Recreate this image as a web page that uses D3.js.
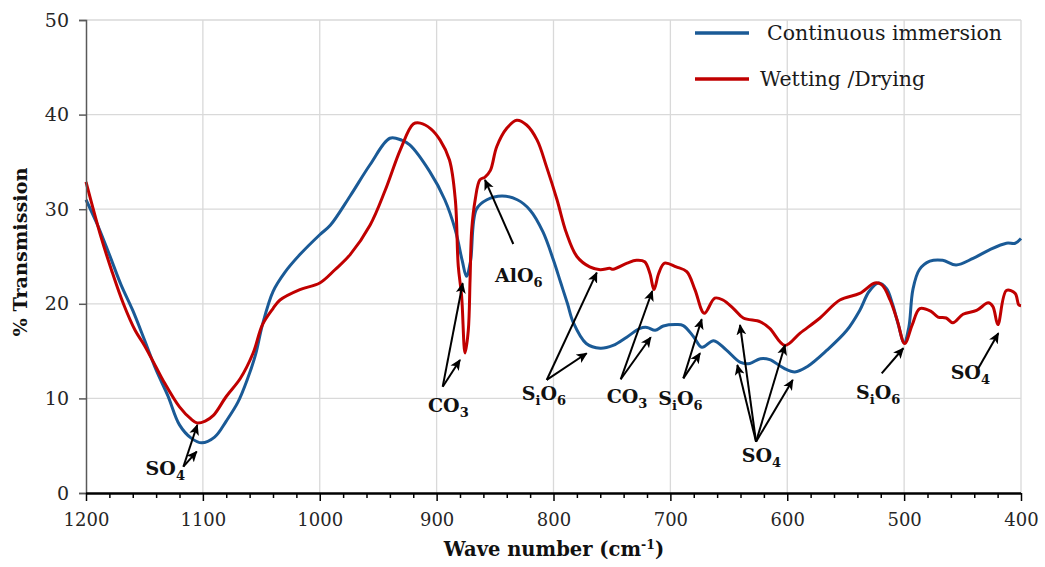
<!DOCTYPE html>
<html><head><meta charset="utf-8">
<script src="https://cdn.jsdelivr.net/npm/d3@7"></script>
<style>
html,body{margin:0;padding:0;background:#fff;}
svg{display:block;}
</style></head>
<body>
<svg id="chart" width="1045" height="567"></svg>
<script>
// ---- data ----
const seriesNames = ["Continuous immersion", "Wetting /Drying"];
const xTickValues = [1200, 1100, 1000, 900, 800, 700, 600, 500, 400];
const yTickValues = [0, 10, 20, 30, 40, 50];

const blueWave = [1200,1190,1180,1170,1160,1150,1140,1130,1120,1110,1101,1090,1080,1070,1062,1055,1049,1040,1030,1017,1000,991,974,957,940,930,923,906,893,884,878,874.5,871,866,857,844,831,820,809,800,794,788,783,772,760,749,737,726,720,713,706,695,689,680,673,663,652,640,632,623,615,603,593.5,583,566,549,538,530,522,515,510,505,500,496,492.5,487,478,467,455.5,441,427,412.5,405,400];
const blueT = [31.0,28.3,25.2,22.0,19.3,16.2,13.0,10.3,7.2,5.8,5.3,5.9,7.6,9.6,12.0,14.6,17.8,21.3,23.3,25.2,27.3,28.3,31.4,34.7,37.5,37.3,36.8,34.0,31.0,27.8,24.5,22.9,24.5,30.0,31.0,31.4,31.0,29.9,27.6,24.6,22.3,20.0,18.0,15.8,15.3,15.6,16.5,17.4,17.5,17.2,17.65,17.8,17.7,16.5,15.4,16.1,15.1,13.8,13.7,14.2,14.1,13.2,12.8,13.35,15.1,17.2,19.3,21.3,22.2,21.6,20.0,17.8,15.9,17.5,21.5,23.6,24.5,24.6,24.1,24.8,25.7,26.4,26.4,26.9];

const redWave = [1200,1187,1178,1168,1158,1150,1140,1134,1120,1110,1105,1098,1091,1080,1068,1057,1049,1040,1034,1017,1000,987,974,957,944,931,920,914,905,897,889,884,881.5,878.6,875.7,872.9,871.4,870,867,863,858.6,854,848.6,840,831.5,823,814,806,797,789,780,769,760,752,749,737,729,722,717.5,714,710,705,695,686,679,671,662,655,646,637.6,623,615,602,589,572,555,538,525,519,512,506,499.5,493,486.6,477,471,464,458.3,449.6,438,428,424,419.8,412.5,405,402,400];
const redT = [32.9,27.0,23.5,20.0,17.2,15.6,13.3,11.9,9.1,7.8,7.4,7.6,8.2,10.2,12.1,14.8,17.8,19.5,20.4,21.5,22.2,23.6,25.2,28.3,32.0,36.3,39.0,39.1,38.5,37.3,35.2,31.0,24.0,20.8,14.8,17.2,22.5,27.8,31.0,33.1,33.4,34.1,36.6,38.55,39.4,38.9,37.3,34.5,31.0,27.5,25.0,23.9,23.6,23.75,23.65,24.3,24.6,24.45,23.2,21.5,23.2,24.3,23.9,23.4,21.5,19.0,20.6,20.4,19.5,18.5,18.1,17.4,15.6,16.9,18.5,20.4,21.1,22.2,22.0,20.4,18.3,15.8,17.8,19.5,19.2,18.6,18.5,18.0,18.9,19.3,20.1,19.7,17.8,21.4,21.1,19.9,19.8];

// annotations (data units)
const annText = ["SO_4","CO_3","AlO_6","S_iO_6","CO_3","S_iO_6","SO_4","S_iO_6","SO_4"];
const annLabelWave = [1149, 907.4, 850.1, 827.2, 754.5, 710.3, 639.0, 541.2, 460.2];
const annLabelT = [1.9, 8.56, 22.34, 9.88, 9.48, 9.30, 3.31, 9.94, 12.05];
// [fromWave, fromT, toWave, toT]
const annArrows = [
  [1116.7,2.78,1104.8,7.19],[1116.7,2.78,1105.3,4.37],
  [894.8,11.24,877.7,22.17],[894.8,11.24,880.0,14.06],
  [834.4,26.32,858.6,33.09],
  [805.8,11.95,763.0,23.29],[805.8,11.95,771.6,14.77],
  [742.5,12.02,715.5,21.35],[742.5,12.02,716.8,16.46],
  [688.9,12.12,673.2,18.36],[688.9,12.12,674.6,14.77],
  [626.7,5.42,640.4,17.76],[626.7,5.42,642.7,13.53],[626.7,5.42,601.9,15.64],[626.7,5.42,595.3,11.95],
  [519.2,12.65,500.7,15.30],
  [436.5,13.18,419.4,16.88]
];

// ---- layout ----
const L = 86, R = 1021, T = 20, B = 493;
const svg = d3.select("#chart");
const x = d3.scaleLinear().domain([1200, 400]).range([L, R]);
const y = d3.scaleLinear().domain([0, 50]).range([B, T]);
const colors = ["#1a5a96", "#c00000"];
const serif = "'DejaVu Serif', serif";

// gridlines
const grid = svg.append("g");
grid.selectAll("line.v").data(xTickValues.slice(1)).join("line")
  .attr("x1", d => x(d)).attr("x2", d => x(d)).attr("y1", T).attr("y2", B)
  .attr("stroke", "#d9d9d9").attr("stroke-width", 1.3);
grid.selectAll("line.h").data(yTickValues.slice(1)).join("line")
  .attr("x1", L).attr("x2", R).attr("y1", d => y(d)).attr("y2", d => y(d))
  .attr("stroke", "#d9d9d9").attr("stroke-width", 1.3);

// series
const line = d3.line().curve(d3.curveCatmullRom.alpha(0.5));
const blueData = blueWave.map((w, i) => [x(w), y(blueT[i])]);
const redData = redWave.map((w, i) => [x(w), y(redT[i])]);
svg.append("path").attr("d", line(blueData)).attr("fill", "none")
  .attr("stroke", colors[0]).attr("stroke-width", 3).attr("stroke-linejoin", "round");
svg.append("path").attr("d", line(redData)).attr("fill", "none")
  .attr("stroke", colors[1]).attr("stroke-width", 3).attr("stroke-linejoin", "round");

// y axis
const yAxis = d3.axisLeft(y).tickValues(yTickValues).tickSize(7).tickPadding(10).tickFormat(d3.format("d"));
const gy = svg.append("g").attr("transform", `translate(${L},0)`).call(yAxis);
gy.select(".domain").attr("stroke", "#595959").attr("stroke-width", 1.5);
gy.selectAll(".tick line").attr("stroke", "#595959").attr("stroke-width", 1.5);
gy.selectAll(".tick text").attr("font-family", serif).attr("font-size", 19).attr("fill", "#262626");

// x axis minor
const minor = d3.range(1200, 399, -20).filter(v => v % 100 !== 0);
const xMinor = d3.axisBottom(x).tickValues(minor).tickSize(5).tickFormat("");
const gxm = svg.append("g").attr("transform", `translate(0,${B})`).call(xMinor);
gxm.select(".domain").remove();
gxm.selectAll(".tick line").attr("stroke", "#000").attr("stroke-width", 1.5);
// x axis major
const xAxis = d3.axisBottom(x).tickValues(xTickValues).tickSize(8).tickPadding(12).tickFormat(d3.format("d"));
const gx = svg.append("g").attr("transform", `translate(0,${B})`).call(xAxis);
gx.select(".domain").attr("stroke", "#000").attr("stroke-width", 2.5).attr("d", `M${L},0.5H${R}`);
gx.selectAll(".tick line").attr("stroke", "#000").attr("stroke-width", 1.5);
gx.selectAll(".tick text").attr("font-family", serif).attr("font-size", 18).attr("fill", "#262626");

// axis titles
const xt = svg.append("text").attr("x", 554).attr("y", 556).attr("text-anchor", "middle")
  .attr("font-family", serif).attr("font-weight", "bold").attr("font-size", 19.5).attr("fill", "#111");
xt.append("tspan").text("Wave number (cm");
xt.append("tspan").text("-1").attr("font-size", 12.5).attr("dy", -7);
xt.append("tspan").text(")").attr("dy", 7);

svg.append("text").attr("transform", "translate(27,252) rotate(-90)").attr("text-anchor", "middle")
  .attr("font-family", serif).attr("font-weight", "bold").attr("font-size", 19.3).attr("fill", "#111")
  .text("% Transmission");

// legend
const legY = [33, 79];
const legTextX = [767, 760];
seriesNames.forEach((n, i) => {
  svg.append("line").attr("x1", 695).attr("x2", 749).attr("y1", legY[i]).attr("y2", legY[i])
    .attr("stroke", colors[i]).attr("stroke-width", 3.5);
  svg.append("text").attr("x", legTextX[i]).attr("y", legY[i] + 7)
    .attr("font-family", serif).attr("font-size", 20.5).attr("fill", "#1a1a1a").text(n);
});

// arrows
const defs = svg.append("defs");
defs.append("marker").attr("id", "ah").attr("viewBox", "0 0 10 10").attr("refX", 9).attr("refY", 5)
  .attr("markerWidth", 11).attr("markerHeight", 11).attr("markerUnits", "userSpaceOnUse").attr("orient", "auto")
  .append("path").attr("d", "M0,0.5 L10,5 L0,9.5 L2.5,5 Z").attr("fill", "#000");
svg.append("g").selectAll("line").data(annArrows).join("line")
  .attr("x1", d => x(d[0])).attr("y1", d => y(d[1]))
  .attr("x2", d => x(d[2])).attr("y2", d => y(d[3]))
  .attr("stroke", "#000").attr("stroke-width", 2).attr("marker-end", "url(#ah)");

// labels
annText.forEach((t, i) => {
  const tx = svg.append("text").attr("x", x(annLabelWave[i])).attr("y", y(annLabelT[i]))
    .attr("font-family", serif).attr("font-weight", "bold").attr("font-size", 19).attr("fill", "#111");
  const parts = t.split(/(_.)/).filter(s => s.length);
  let shifted = false;
  parts.forEach(p => {
    if (p[0] === "_") {
      tx.append("tspan").text(p[1]).attr("font-size", 13).attr("dy", shifted ? 0 : 5);
      shifted = true;
    } else {
      tx.append("tspan").text(p).attr("dy", shifted ? -5 : 0);
      shifted = false;
    }
  });
});
</script>
</body></html>
